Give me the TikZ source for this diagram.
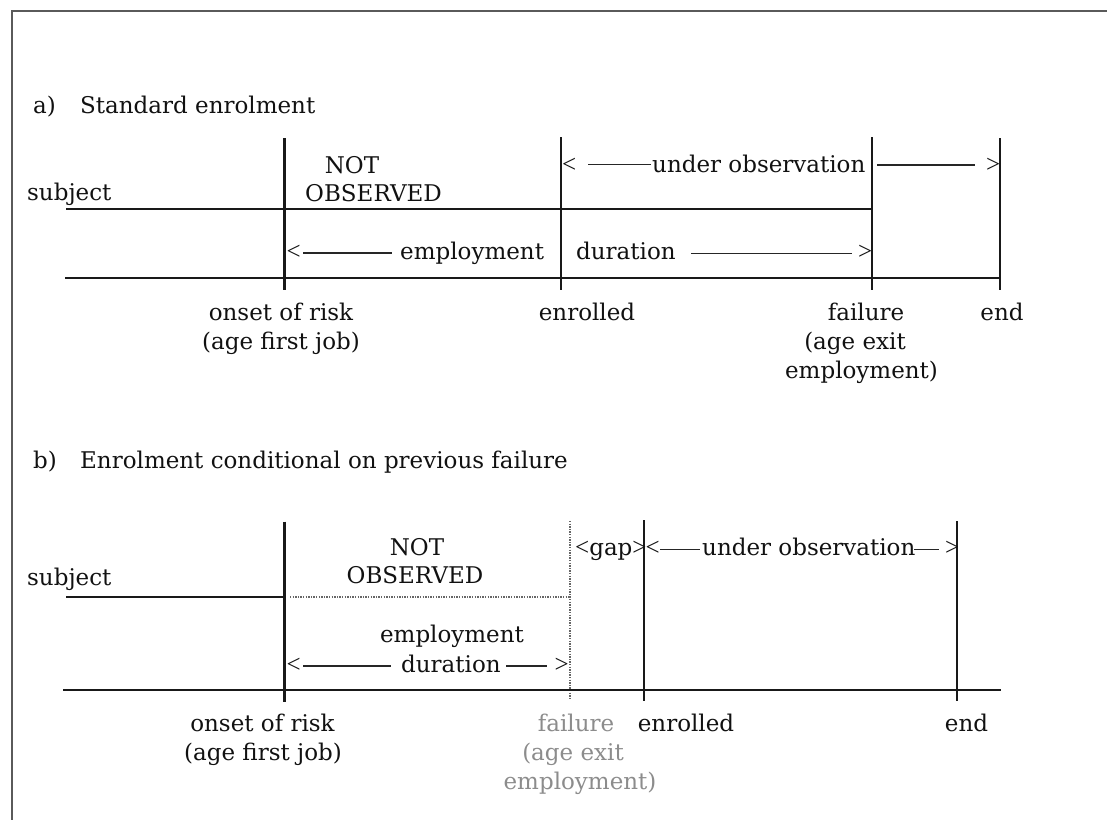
\documentclass[tikz,border=0pt]{standalone}
\usepackage{fontspec}
\setmainfont{DejaVu Serif}
\newfontfamily\ltfont{Liberation Serif}
\newcommand\lsym{{\ltfont\fontsize{25}{28}\selectfont<}}
\newcommand\gsym{{\ltfont\fontsize{25}{28}\selectfont>}}
\definecolor{txt}{HTML}{111111}
\definecolor{graytxt}{HTML}{8C8C8C}
\definecolor{framec}{HTML}{5A5A5A}
\begin{document}
\begin{tikzpicture}[x=1pt,y=-1pt,
  lbl/.style={inner sep=0pt,anchor=base,text=txt},
  lblw/.style={inner sep=0pt,anchor=base west,text=txt},
  glbl/.style={inner sep=0pt,anchor=base,text=graytxt},
  ln/.style={line width=2.2pt,draw=black!90},
  dl/.style={line width=1.9pt,draw=black!85},
  dotl/.style={line width=1.6pt,draw=black!60,dash pattern=on 1.3pt off 1.3pt},
  font=\fontsize{23}{28}\selectfont]
\useasboundingbox (0,0) rectangle (1107,820);
% frame (top and left edges only)
\draw[line width=2.2pt,draw=framec] (1107,11) -- (12,11) -- (12,820);

% ---------------- panel a ----------------
\node[lblw] (atag) at (33,113) {a)};
\node[lblw] (atitle) at (80,113) {Standard enrolment};
\node[lblw] (asubj) at (27,200) {subject};

\coordinate (aOnT) at (284.5,138);  \coordinate (aOnB) at (284.5,290);
\coordinate (aEnT) at (561,137);    \coordinate (aEnB) at (561,290);
\coordinate (aFaT) at (872,137);    \coordinate (aFaB) at (872,290);
\coordinate (aEdT) at (1000,138);   \coordinate (aEdB) at (1000,290);
\coordinate (aSubS) at (66,209);    \coordinate (aSubE) at (872,209);
\coordinate (aAxS) at (65,278);     \coordinate (aAxE) at (1000,278);

\draw[ln] (aOnT) -- (aOnB);
\draw[ln] (aEnT) -- (aEnB);
\draw[ln] (aFaT) -- (aFaB);
\draw[ln] (aEdT) -- (aEdB);
\draw[ln] (aSubS) -- (aSubE);
\draw[ln] (aAxS) -- (aAxE);

\node[lbl] (anot) at (352,173) {NOT};
\node[lblw] (aobs) at (305,201) {OBSERVED};

% under observation
\node[lblw] (auL) at (562,172) {\lsym};
\coordinate (auD1s) at (588,164.5); \coordinate (auD1e) at (651,164.5);
\draw[dl] (auD1s) -- (auD1e);
\node[lblw] (auT) at (652,172) {under observation};
\coordinate (auD2s) at (877,165); \coordinate (auD2e) at (975,165);
\draw[dl] (auD2s) -- (auD2e);
\node[lblw] (auR) at (986,172) {\gsym};

% employment duration
\node[lblw] (aeL) at (286.5,259) {\lsym};
\coordinate (aeD1s) at (303,253); \coordinate (aeD1e) at (392,253);
\draw[dl] (aeD1s) -- (aeD1e);
\node[lblw] (aeT1) at (400,259) {employment};
\node[lblw] (aeT2) at (576,259) {duration};
\coordinate (aeD2s) at (691,253.5); \coordinate (aeD2e) at (852,253.5);
\draw[dl] (aeD2s) -- (aeD2e);
\node[lblw] (aeR) at (858,259) {\gsym};

% labels
\node[lbl] (aon1) at (281,320) {onset of risk};
\node[lbl] (aon2) at (281,349) {(age first job)};
\node[lbl] (aenr) at (587,320) {enrolled};
\node[lbl] (afa1) at (866,320) {failure};
\node[lbl] (afa2) at (855,349) {(age exit};
\node[lbl] (afa3) at (861.5,378) {employment)};
\node[lbl] (aend) at (1002,320) {end};

% ---------------- panel b ----------------
\node[lblw] (btag) at (33,468) {b)};
\node[lblw] (btitle) at (80,468) {Enrolment conditional on previous failure};
\node[lblw] (bsubj) at (27,585) {subject};

\coordinate (bOnT) at (284.5,521.5); \coordinate (bOnB) at (284.5,701.5);
\coordinate (bFaT) at (570,521);     \coordinate (bFaB) at (570,700);
\coordinate (bEnT) at (644.3,520);   \coordinate (bEnB) at (644.3,701);
\coordinate (bEdT) at (957,521);     \coordinate (bEdB) at (957,701);
\coordinate (bSubS) at (66,597);     \coordinate (bSubM) at (284.5,597);
\coordinate (bSubD) at (290,597);    \coordinate (bSubE) at (570,597);
\coordinate (bAxS) at (63,690);      \coordinate (bAxE) at (1001,690);

\draw[ln] (bOnT) -- (bOnB);
\draw[dotl] (bFaT) -- (bFaB);
\draw[ln] (bEnT) -- (bEnB);
\draw[ln] (bEdT) -- (bEdB);
\draw[ln] (bSubS) -- (bSubM);
\draw[dotl] (bSubD) -- (bSubE);
\draw[ln] (bAxS) -- (bAxE);

\node[lbl] (bnot) at (417,555) {NOT};
\node[lbl] (bobs) at (415,583.5) {OBSERVED};

% gap and under observation
\node[lblw] (bgap) at (575,555) {\lsym gap\gsym};
\node[lblw] (buL) at (645.5,555) {\lsym};
\coordinate (buD1s) at (660,549.5); \coordinate (buD1e) at (700,549.5);
\draw[dl] (buD1s) -- (buD1e);
\node[lblw] (buT) at (702,555) {under observation};
\coordinate (buD2s) at (914,549.5); \coordinate (buD2e) at (939,549.5);
\draw[dl] (buD2s) -- (buD2e);
\node[lblw] (buR) at (945,555) {\gsym};

% employment duration
\node[lbl] (beT1) at (452,642) {employment};
\node[lblw] (beL) at (286.5,672) {\lsym};
\coordinate (beD1s) at (303,665.7); \coordinate (beD1e) at (391,665.7);
\draw[dl] (beD1s) -- (beD1e);
\node[lblw] (beT2) at (401,672) {duration};
\coordinate (beD2s) at (506,665.7); \coordinate (beD2e) at (547,665.7);
\draw[dl] (beD2s) -- (beD2e);
\node[lblw] (beR) at (554.5,672) {\gsym};

% labels
\node[lbl] (bon1) at (262.5,731) {onset of risk};
\node[lbl] (bon2) at (263,760) {(age first job)};
\node[glbl] (bfa1) at (576,731) {failure};
\node[glbl] (bfa2) at (573,760) {(age exit};
\node[glbl] (bfa3) at (580,789) {employment)};
\node[lbl] (benr) at (686,731) {enrolled};
\node[lbl] (bend) at (966.5,731) {end};
\end{tikzpicture}
\end{document}
